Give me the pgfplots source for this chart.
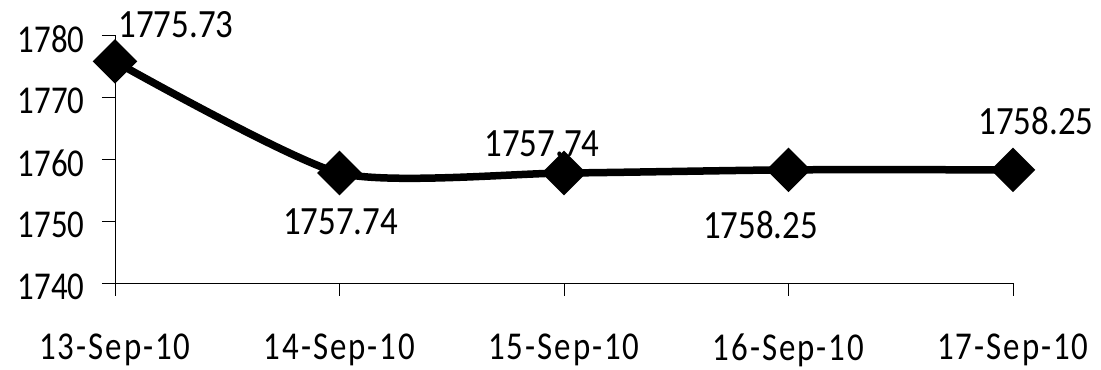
\documentclass[border=0pt]{standalone}
\usepackage{pgfplots}
\pgfplotsset{compat=1.18}
\usepackage{pgfplotstable}
\usepackage{fontspec}
\setmainfont{Carlito}
\newcommand{\tl}[1]{\scalebox{1}[1.2]{#1}}
\newcommand{\dl}[1]{\scalebox{1}[1.15]{#1}}
\newcommand{\xl}[1]{\scalebox{1}[1.2]{\addfontfeature{LetterSpace=6}#1}}

\pgfplotstableread{
x y dx dy
0 1775.73 61 37
1 1757.74 1 -49
2 1757.74 -22 29
3 1758.25 -28 -55
4 1758.25 23 49
}\datatable

\begin{document}
\begin{tikzpicture}
\begin{axis}[
  name=ax,
  scale only axis,
  width=898bp, height=248bp,
  xmin=0, xmax=4, ymin=1740, ymax=1780,
  axis x line*=bottom, axis y line*=left,
  x axis line style={-}, y axis line style={-},
  axis line style={line width=0.8bp},
  xtick={0,1,2,3,4},
  xticklabels={\xl{13-Sep-10},\xl{14-Sep-10},\xl{15-Sep-10},\xl{16-Sep-10},\xl{17-Sep-10}},
  ytick={1740,1750,1760,1770,1780},
  yticklabel={\tl{\pgfmathprintnumber{\tick}}},
  tick align=outside,
  major tick length=13bp,
  tick style={line width=0.8bp, black},
  /pgf/number format/assume math mode=true,
  /pgf/number format/1000 sep={},
  tick label style={font=\fontsize{33}{40}\selectfont},
  yticklabel style={yshift=-4bp, xshift=-14bp},
  xticklabel style={yshift=-34bp},
  clip=false,
]
\addplot[black, line width=7.5bp, smooth, tension=0.38,
  mark=square*, mark size=12bp,
  mark options={rotate=45, fill=black, draw=none},
  point meta=y,
  visualization depends on={\thisrow{dx} \as \dx},
  visualization depends on={\thisrow{dy} \as \dy},
  nodes near coords={\dl{\pgfmathprintnumber[fixed,precision=2,fixed zerofill]{\pgfplotspointmeta}}},
  nodes near coords align={center},
  every node near coord/.append style={anchor=center, xshift=\dx*1bp, yshift=\dy*1bp, font=\fontsize{35}{42}\selectfont, text=black},
] table[x=x, y=y] {\datatable};
\end{axis}
\path ([shift={(-115bp,-84bp)}]ax.south west) rectangle ([shift={(986bp,283bp)}]ax.south west);
\end{tikzpicture}
\end{document}
